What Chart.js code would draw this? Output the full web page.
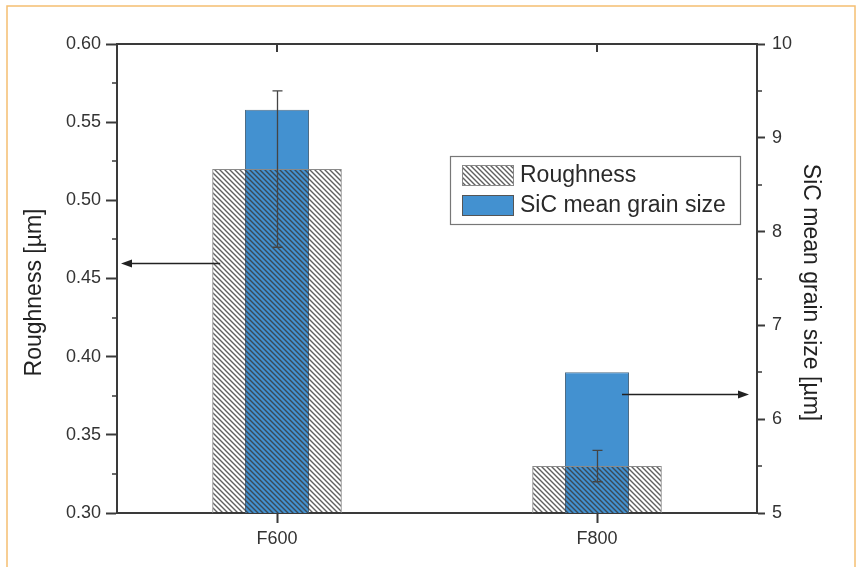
<!DOCTYPE html>
<html>
<head>
<meta charset="utf-8">
<script src="https://cdn.jsdelivr.net/npm/chart.js@4.4.1/dist/chart.umd.min.js"></script>
<style>
  html, body { margin: 0; padding: 0; background: #fff; }
  #wrap { position: relative; width: 862px; height: 567px; }
</style>
</head>
<body>
<div id="wrap"><canvas id="c" width="862" height="567"></canvas></div>
<script>
// Grit categories and measured values
const categories = ['F600', 'F800'];
const roughness = [0.52, 0.33];          // µm, left axis
const roughnessErr = [0.05, 0.01];       // ± µm
const grainSize = [9.3, 6.5];            // µm, right axis
const roughnessTicks = [0.30, 0.60, 0.05];
const grainTicks = [5, 10, 1];
const axisTitles = { y: 'Roughness [µm]', y2: 'SiC mean grain size [µm]' };
// Arrows pointing from each pair of bars to the axis it is read against
const axisArrows = [
  { category: 'F600', axis: 'y',  value: 0.46, dir: 'left' },
  { category: 'F800', axis: 'y2', value: 6.27, dir: 'right' }
];

const AXIS = '#3a3a3a';
const FONT = '"Liberation Sans", Arial, sans-serif';
const BLUE = '#4391d0';

function makeHatch() {
  const s = 5;
  const p = document.createElement('canvas');
  p.width = s; p.height = s;
  const g = p.getContext('2d');
  g.strokeStyle = 'rgba(55,55,55,0.8)';
  g.lineWidth = 1.4;
  g.beginPath();
  g.moveTo(-1, -1); g.lineTo(s + 1, s + 1);
  g.moveTo(-1, s - 1); g.lineTo(1, s + 1);
  g.moveTo(s - 1, -1); g.lineTo(s + 1, 1);
  g.stroke();
  return g.createPattern(p, 'repeat');
}
const ctx0 = document.getElementById('c').getContext('2d');
const hatch = makeHatch();

// Frame, top border, minor ticks, error bars, arrows, axis titles and legend
const decorations = {
  id: 'decorations',
  beforeDraw(chart) {
    const c = chart.ctx;
    c.save();
    c.fillStyle = '#fff';
    c.fillRect(0, 0, chart.width, chart.height);
    c.strokeStyle = '#f5bf72';
    c.lineWidth = 1.5;
    c.strokeRect(7, 6, 848, 600);
    c.restore();
  },
  afterDatasetsDraw(chart) {
    const c = chart.ctx;
    const x = chart.scales.x, y = chart.scales.y;
    const a = chart.chartArea;
    c.save();
    // error bars on roughness
    c.strokeStyle = '#444';
    c.lineWidth = 1.3;
    roughness.forEach((v, i) => {
      const px = Math.round(x.getPixelForValue(i)) + 0.5;
      const top = y.getPixelForValue(v + roughnessErr[i]);
      const bot = y.getPixelForValue(v - roughnessErr[i]);
      c.beginPath();
      c.moveTo(px, top); c.lineTo(px, bot);
      c.moveTo(px - 5, top); c.lineTo(px + 5, top);
      c.moveTo(px - 5, bot); c.lineTo(px + 5, bot);
      c.stroke();
    });
    // arrows
    const meta0 = chart.getDatasetMeta(0), meta1 = chart.getDatasetMeta(1);
    c.strokeStyle = '#222';
    c.fillStyle = '#222';
    c.lineWidth = 1.6;
    axisArrows.forEach(ar => {
      const i = categories.indexOf(ar.category);
      const sc = chart.scales[ar.axis];
      const py = Math.round(sc.getPixelForValue(ar.value)) + 0.5;
      let x0, x1;
      if (ar.dir === 'left') {
        const bar = meta0.data[i];
        x0 = bar.x - bar.width / 2 + 8;
        x1 = a.left + 4;
      } else {
        const bar = meta1.data[i];
        x0 = bar.x + bar.width / 2 - 7;
        x1 = a.right - 8;
      }
      const d = ar.dir === 'left' ? -1 : 1;
      c.beginPath();
      c.moveTo(x0, py); c.lineTo(x1 - d * 8, py);
      c.stroke();
      c.beginPath();
      c.moveTo(x1, py);
      c.lineTo(x1 - d * 11, py - 4);
      c.lineTo(x1 - d * 11, py + 4);
      c.closePath();
      c.fill();
    });
    c.restore();
  },
  afterDraw(chart) {
    const c = chart.ctx;
    const x = chart.scales.x, y = chart.scales.y, y2 = chart.scales.y2;
    const a = chart.chartArea;
    c.save();
    c.strokeStyle = AXIS;
    c.lineWidth = 2;
    // top border with inward ticks at categories
    c.beginPath();
    c.moveTo(a.left - 1, a.top); c.lineTo(a.right + 1, a.top);
    categories.forEach((_, i) => {
      const px = Math.round(x.getPixelForValue(i));
      c.moveTo(px, a.top); c.lineTo(px, a.top + 8);
    });
    c.stroke();
    // minor ticks (outward, half step)
    c.lineWidth = 1.5;
    c.beginPath();
    for (let v = roughnessTicks[0] + roughnessTicks[2] / 2; v < roughnessTicks[1]; v += roughnessTicks[2]) {
      const py = Math.round(y.getPixelForValue(v));
      c.moveTo(a.left, py); c.lineTo(a.left - 5, py);
    }
    for (let v = grainTicks[0] + grainTicks[2] / 2; v < grainTicks[1]; v += grainTicks[2]) {
      const py = Math.round(y2.getPixelForValue(v));
      c.moveTo(a.right, py); c.lineTo(a.right + 5, py);
    }
    c.stroke();
    // axis titles, set slightly below the middle of the axes
    const midY = (a.top + a.bottom) / 2 + 14;
    c.fillStyle = '#222';
    c.font = '23px ' + FONT;
    c.textAlign = 'center';
    c.textBaseline = 'middle';
    c.save();
    c.translate(y.left + 17, midY);
    c.rotate(-Math.PI / 2);
    c.fillText(axisTitles.y, 0, 0);
    c.restore();
    c.save();
    c.translate(y2.right - 17, midY);
    c.rotate(Math.PI / 2);
    c.fillText(axisTitles.y2, 0, 0);
    c.restore();
    // legend
    const lx = 450, ly = 156, lw = 290, lh = 68;
    c.fillStyle = '#fff';
    c.fillRect(lx, ly, lw, lh);
    c.strokeStyle = '#777';
    c.lineWidth = 1.2;
    c.strokeRect(lx + 0.5, ly + 0.5, lw, lh);
    const items = [
      { label: 'Roughness', fill: hatch, base: '#fff', border: '#888' },
      { label: 'SiC mean grain size', fill: BLUE, base: BLUE, border: '#555' }
    ];
    items.forEach((it, k) => {
      const sy = ly + 9 + k * 30;
      c.fillStyle = it.base;
      c.fillRect(lx + 12, sy, 51, 20);
      c.fillStyle = it.fill;
      c.fillRect(lx + 12, sy, 51, 20);
      c.strokeStyle = it.border;
      c.lineWidth = 1;
      c.strokeRect(lx + 12.5, sy + 0.5, 51, 20);
      c.fillStyle = '#2a2a2a';
      c.font = '23px ' + FONT;
      c.textBaseline = 'middle';
      c.textAlign = 'left';
      c.fillText(it.label, lx + 70, sy + 11);
    });
    c.restore();
  }
};

new Chart(ctx0, {
  type: 'bar',
  data: {
    labels: categories,
    datasets: [
      {
        label: 'Roughness',
        data: roughness,
        yAxisID: 'y',
        backgroundColor: hatch,
        borderColor: '#8a8a8a',
        borderWidth: 1,
        grouped: false,
        categoryPercentage: 1,
        barPercentage: 0.405,
        order: 1
      },
      {
        label: 'SiC mean grain size',
        data: grainSize,
        yAxisID: 'y2',
        backgroundColor: BLUE,
        borderColor: '#4d6c86',
        borderWidth: 1,
        grouped: false,
        categoryPercentage: 1,
        barPercentage: 0.2,
        order: 2
      }
    ]
  },
  options: {
    responsive: false,
    animation: false,
    events: [],
    layout: { padding: { left: 18, right: 35, top: 44, bottom: 0 } },
    plugins: { legend: { display: false }, tooltip: { enabled: false } },
    scales: {
      x: {
        offset: true,
        afterFit(s) { s.height = 54; },
        border: { color: AXIS, width: 2 },
        grid: { display: true, drawOnChartArea: false, drawTicks: true, offset: false, tickLength: 10, tickColor: AXIS, tickWidth: 2 },
        ticks: { color: '#333', padding: 5, font: { family: FONT, size: 18 } }
      },
      y: {
        position: 'left',
        min: roughnessTicks[0], max: roughnessTicks[1],
        afterFit(s) { s.width = 99; },
        border: { color: AXIS, width: 2 },
        grid: { drawOnChartArea: false, tickLength: 11, tickColor: AXIS, tickWidth: 2 },
        ticks: { stepSize: roughnessTicks[2], color: '#333', padding: 5, font: { family: FONT, size: 18 },
                 callback: v => Number(v).toFixed(2) }
      },
      y2: {
        position: 'right',
        min: grainTicks[0], max: grainTicks[1],
        afterFit(s) { s.width = 70; },
        border: { color: AXIS, width: 2 },
        grid: { drawOnChartArea: false, tickLength: 8, tickColor: AXIS, tickWidth: 2 },
        ticks: { stepSize: grainTicks[2], color: '#333', padding: 7, font: { family: FONT, size: 18 } }
      }
    }
  },
  plugins: [decorations]
});
</script>
</body>
</html>
